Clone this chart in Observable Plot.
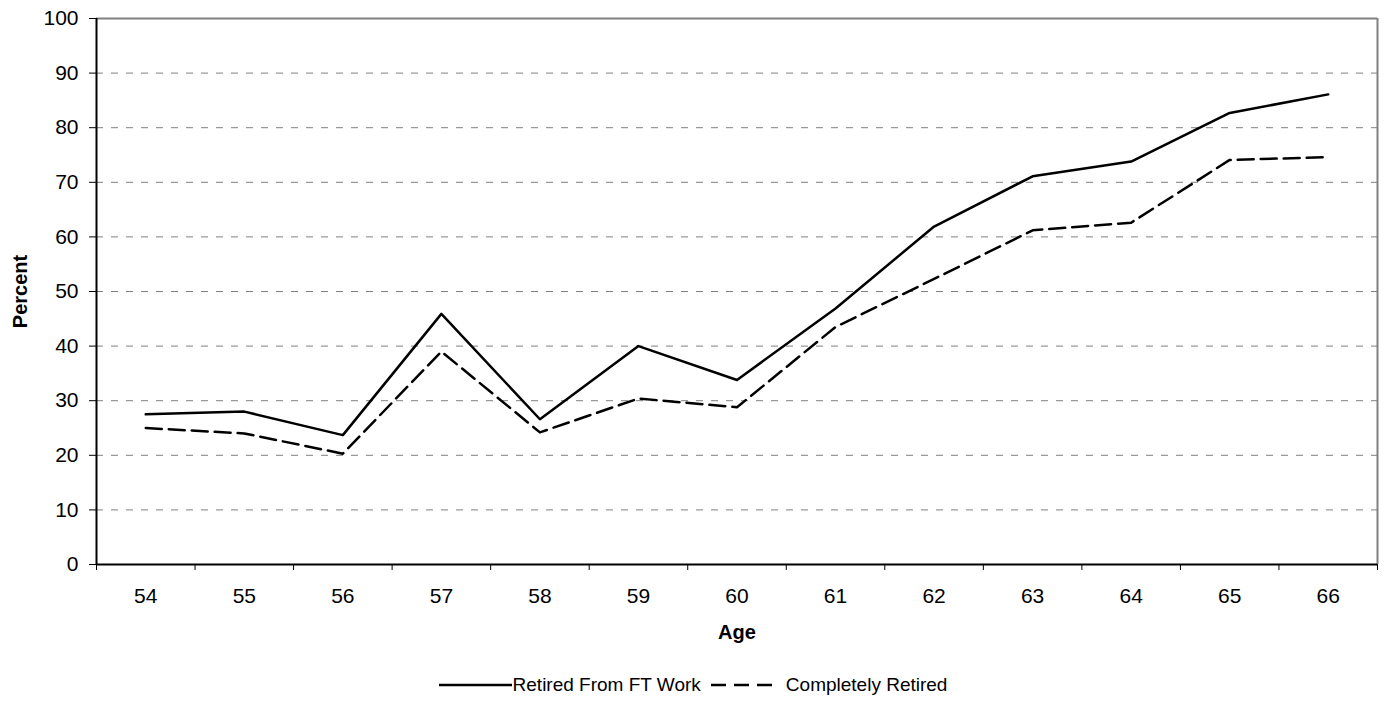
<!DOCTYPE html>
<html>
<head>
<meta charset="utf-8">
<script src="https://cdn.jsdelivr.net/npm/d3@7"></script>
<script src="https://cdn.jsdelivr.net/npm/@observablehq/plot@0.6"></script>
<style>
  html, body { margin: 0; padding: 0; background: #fff; }
  body { font-family: "Liberation Sans", Arial, sans-serif; color: #000; width: 1386px; }
  #legend { display: flex; justify-content: center; align-items: center; height: 49px; font-size: 19px; }
  .item { display: flex; align-items: center; }
  .item svg { display: block; }
</style>
</head>
<body>
<div id="chart"></div>
<div id="legend"></div>
<script>
// Age of respondent (x categories)
const ages = [54, 55, 56, 57, 58, 59, 60, 61, 62, 63, 64, 65, 66];
// Share retired from full-time work, percent
const retiredFT = [27.5, 28.0, 23.7, 45.9, 26.6, 40.0, 33.8, 46.9, 61.9, 71.1, 73.8, 82.7, 86.1];
// Share completely retired, percent
const completelyRetired = [25.0, 24.0, 20.3, 39.0, 24.2, 30.4, 28.8, 43.5, 52.3, 61.2, 62.6, 74.1, 74.6];
// Y-axis ticks
const yTicks = [0, 10, 20, 30, 40, 50, 60, 70, 80, 90, 100];
const seriesNames = ["Retired From FT Work", "Completely Retired"];
const seriesDash = [null, "16,7"];

const rows = ages.flatMap((age, i) => [
  {age, value: retiredFT[i], series: seriesNames[0]},
  {age, value: completelyRetired[i], series: seriesNames[1]}
]);

// category boundaries, where the x tick marks sit
const boundaries = d3.range(ages[0] - 0.5, ages[ages.length - 1] + 1, 1);

const chart = Plot.plot({
  width: 1386,
  height: 660,
  marginLeft: 96,
  marginRight: 9,
  marginTop: 18,
  marginBottom: 96,
  style: {fontFamily: "'Liberation Sans', Arial, sans-serif", fontSize: "21px", color: "#000", background: "#fff", overflow: "visible"},
  x: {type: "linear", domain: [boundaries[0], boundaries[boundaries.length - 1]]},
  y: {domain: [0, 100]},
  marks: [
    Plot.ruleY(yTicks.filter(d => d > 0 && d < 100), {stroke: "#808080", strokeWidth: 1, strokeDasharray: "7,8"}),
    Plot.ruleY([100], {stroke: "#808080", strokeWidth: 2}),
    Plot.ruleX([boundaries[boundaries.length - 1]], {stroke: "#808080", strokeWidth: 2}),
    Plot.line(rows.filter(d => d.series === seriesNames[1]), {x: "age", y: "value", stroke: "#000", strokeWidth: 2.5, strokeDasharray: seriesDash[1]}),
    Plot.line(rows.filter(d => d.series === seriesNames[0]), {x: "age", y: "value", stroke: "#000", strokeWidth: 2.5}),
    Plot.axisY(yTicks, {tickSize: 7, tickPadding: 11, label: null, stroke: "#000", fontSize: 21}),
    Plot.axisX(ages, {tickSize: 0, tickPadding: 24, label: null, fontSize: 21}),
    Plot.axisX(boundaries, {tickSize: 6, tickFormat: () => "", label: null, stroke: "#000"}),
    Plot.ruleY([0], {stroke: "#000", strokeWidth: 2}),
    Plot.ruleX([boundaries[0]], {stroke: "#000", strokeWidth: 2}),
    Plot.text(["Age"], {frameAnchor: "bottom", lineAnchor: "middle", textAnchor: "middle", dy: 68, fontWeight: "bold", fontSize: 20}),
    Plot.text(["Percent"], {frameAnchor: "left", lineAnchor: "middle", textAnchor: "middle", dx: -76, rotate: -90, fontWeight: "bold", fontSize: 20})
  ]
});
document.getElementById("chart").appendChild(chart);

// legend below the chart
const legend = d3.select("#legend");
seriesNames.forEach((name, i) => {
  const item = legend.append("div").attr("class", "item").style("margin-left", i ? "10px" : "0");
  const sw = item.append("svg").attr("width", i ? 66 : 73).attr("height", 12)
    .style("margin-right", i ? "9px" : "1px");
  sw.append("line").attr("x1", 0).attr("x2", i ? 66 : 73).attr("y1", 6).attr("y2", 6)
    .attr("stroke", "#000").attr("stroke-width", 2.5)
    .attr("stroke-dasharray", i ? "15,8" : null);
  item.append("span").text(name);
});
</script>
</body>
</html>
